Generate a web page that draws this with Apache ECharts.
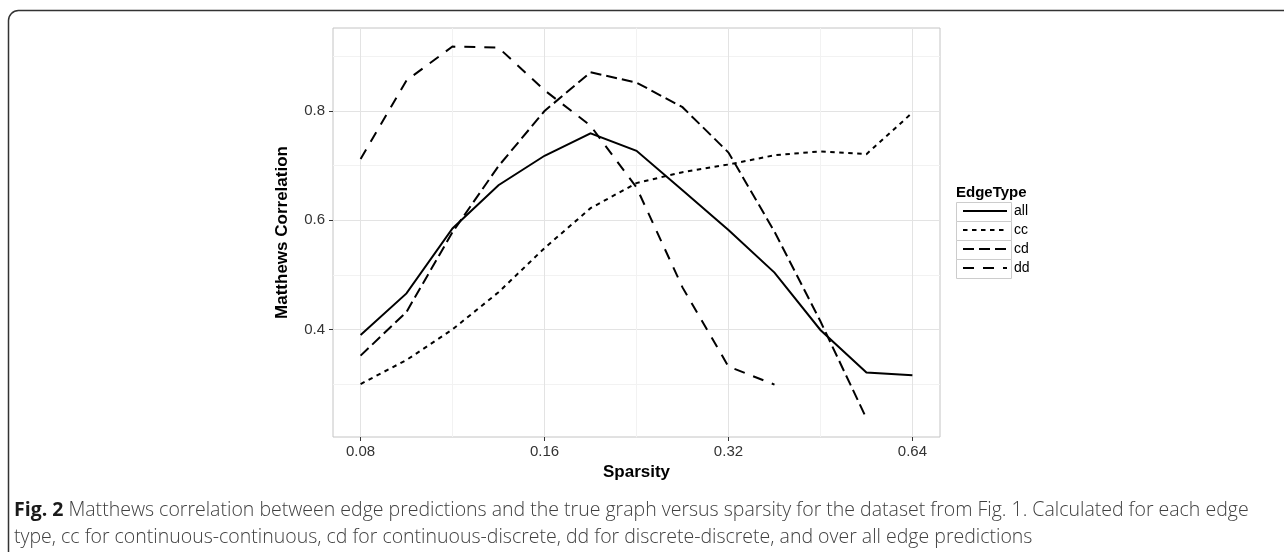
<!DOCTYPE html>
<html><head><meta charset="utf-8">
<script src="https://cdn.jsdelivr.net/npm/echarts@6/dist/echarts.min.js"></script>
<style>html,body{margin:0;padding:0;background:#fff;} #c{width:1284px;height:552px;}</style>
</head><body><div id="c"></div>
<script>
// ---- data ----
const sparsity  = [0.08, 0.0951, 0.1131, 0.1345, 0.16, 0.1903, 0.2263, 0.2691, 0.32, 0.3806, 0.4525, 0.5382, 0.64];
const allValues = [0.390, 0.466, 0.585, 0.664, 0.718, 0.759, 0.727, 0.655, 0.582, 0.504, 0.399, 0.321, 0.316];
const ccValues  = [0.300, 0.344, 0.400, 0.468, 0.549, 0.622, 0.668, 0.688, 0.702, 0.719, 0.726, 0.721, 0.797];
const cdValues  = [0.352, 0.432, 0.578, 0.699, 0.800, 0.871, 0.852, 0.807, 0.724, 0.579, 0.415, 0.237];
const ddValues  = [0.712, 0.856, 0.918, 0.916, 0.838, 0.773, 0.660, 0.477, 0.332, 0.299];
const xTickLabels  = [0.08, 0.16, 0.32, 0.64];
const xMinorBreaks = [0.1131, 0.2263, 0.4525];
const yTickLabels  = [0.4, 0.6, 0.8];
const yMinorBreaks = [0.3, 0.5, 0.7, 0.9];
const edgeTypes = ['all', 'cc', 'cd', 'dd'];
const captionBold = 'Fig. 2';
const captionLine1 = 'Matthews correlation between edge predictions and the true graph versus sparsity for the dataset from Fig. 1. Calculated for each edge';
const captionLine2 = 'type, cc for continuous-continuous, cd for continuous-discrete, dd for discrete-discrete, and over all edge predictions';

// ---- styles ----
const dashes = { all: 'solid', cc: [4.5, 4.5], cd: [11, 5], dd: [11, 9] };
const valuesByType = { all: allValues, cc: ccValues, cd: cdValues, dd: ddValues };
const FONT = '"Liberation Sans", Arial, Helvetica, sans-serif';
const CAPFONT = '"Open Sans", Lato, sans-serif';

const xMin = 0.08 * Math.pow(2, -0.15), xMax = 0.64 * Math.pow(2, 0.15);
const yMin = 0.203, yMax = 0.952;

const chart = echarts.init(document.getElementById('c'), null, { renderer: 'canvas' });

const series = edgeTypes.map(t => ({
  name: t,
  type: 'line',
  xAxisIndex: 0, yAxisIndex: 0,
  symbol: 'none',
  showSymbol: false,
  silent: true,
  data: valuesByType[t].map((v, i) => [sparsity[i], v]),
  lineStyle: { color: '#000', width: 2, type: dashes[t], cap: 'butt', join: 'miter' },
  itemStyle: { color: '#000' },
  z: 3
}));

const option = {
  animation: false,
  backgroundColor: '#fff',
  textStyle: { fontFamily: FONT },
  title: [
    {
      left: 14, top: 497, padding: 0,
      text: '{b|' + captionBold + '} {n|' + captionLine1 + '}\n{n|' + captionLine2 + '}',
      textStyle: {
        rich: {
          b: { fontFamily: CAPFONT, fontWeight: 'bold', fontSize: 19.5, color: '#1a1a1a', lineHeight: 27 },
          n: { fontFamily: CAPFONT, fontWeight: 300, fontSize: 19.5, color: '#404040', lineHeight: 27 }
        }
      }
    },
    {
      left: 956, top: 185, padding: 0, text: 'EdgeType',
      textStyle: { fontFamily: FONT, fontWeight: 'bold', fontSize: 15, color: '#000' }
    }
  ],
  grid: {
    left: 333, top: 28, width: 607, height: 409,
    show: true, borderColor: '#c4c4c4', borderWidth: 1, backgroundColor: '#fff', z: 0
  },
  legend: {
    orient: 'vertical', left: 962, top: 204, padding: 0,
    itemWidth: 44, itemHeight: 14, itemGap: 5,
    data: edgeTypes,
    selectedMode: false,
    itemStyle: { color: 'transparent', borderWidth: 0, opacity: 0 },
    textStyle: { fontFamily: FONT, fontSize: 14, color: '#000', padding: [0, 0, 0, 2] }
  },
  xAxis: [
    {
      type: 'log', logBase: 2, min: xMin, max: xMax,
      name: 'Sparsity', nameLocation: 'middle', nameGap: 27,
      nameTextStyle: { fontFamily: FONT, fontWeight: 'bold', fontSize: 17, color: '#000' },
      axisLine: { show: false },
      axisTick: { show: true, length: 4, customValues: xTickLabels, lineStyle: { color: '#333' } },
      axisLabel: { customValues: xTickLabels, margin: 7, fontFamily: FONT, fontSize: 15, color: '#333',
                   formatter: v => String(+(+v).toFixed(2)) },
      splitLine: { show: true, lineStyle: { color: '#e3e3e3', width: 1 } }
    },
    {
      type: 'log', logBase: 2, min: xMin, max: xMax, position: 'bottom',
      axisLine: { show: false },
      axisTick: { show: false, customValues: xMinorBreaks },
      axisLabel: { show: false, customValues: xMinorBreaks },
      splitLine: { show: true, lineStyle: { color: '#f2f2f2', width: 1 } }
    }
  ],
  yAxis: [
    {
      type: 'value', min: yMin, max: yMax,
      name: 'Matthews Correlation', nameLocation: 'middle', nameGap: 42, nameRotate: 90,
      nameTextStyle: { fontFamily: FONT, fontWeight: 'bold', fontSize: 17, color: '#000' },
      axisLine: { show: false },
      axisTick: { show: true, length: 4, customValues: yTickLabels, lineStyle: { color: '#333' } },
      axisLabel: { customValues: yTickLabels, margin: 8, fontFamily: FONT, fontSize: 15, color: '#333',
                   formatter: v => (+v).toFixed(1) },
      splitLine: { show: true, lineStyle: { color: '#e3e3e3', width: 1 } }
    },
    {
      type: 'value', min: yMin, max: yMax, position: 'left',
      axisLine: { show: false },
      axisTick: { show: false, customValues: yMinorBreaks },
      axisLabel: { show: false, customValues: yMinorBreaks },
      splitLine: { show: true, lineStyle: { color: '#f2f2f2', width: 1 } }
    }
  ],
  series: series,
  graphic: [
    {
      type: 'rect', silent: true, z: 100,
      shape: { x: 8.5, y: 10.5, width: 1500, height: 800, r: 10 },
      style: { fill: 'none', stroke: '#333', lineWidth: 1.5 }
    }
  ].concat(edgeTypes.map((t, i) => ({
      type: 'rect', silent: true, z: -1,
      shape: { x: 956.5, y: 202.5 + 19 * i, width: 55, height: 19 },
      style: { fill: '#fff', stroke: '#cccccc', lineWidth: 1 }
  })))
};
chart.setOption(option);
</script>
</body></html>
